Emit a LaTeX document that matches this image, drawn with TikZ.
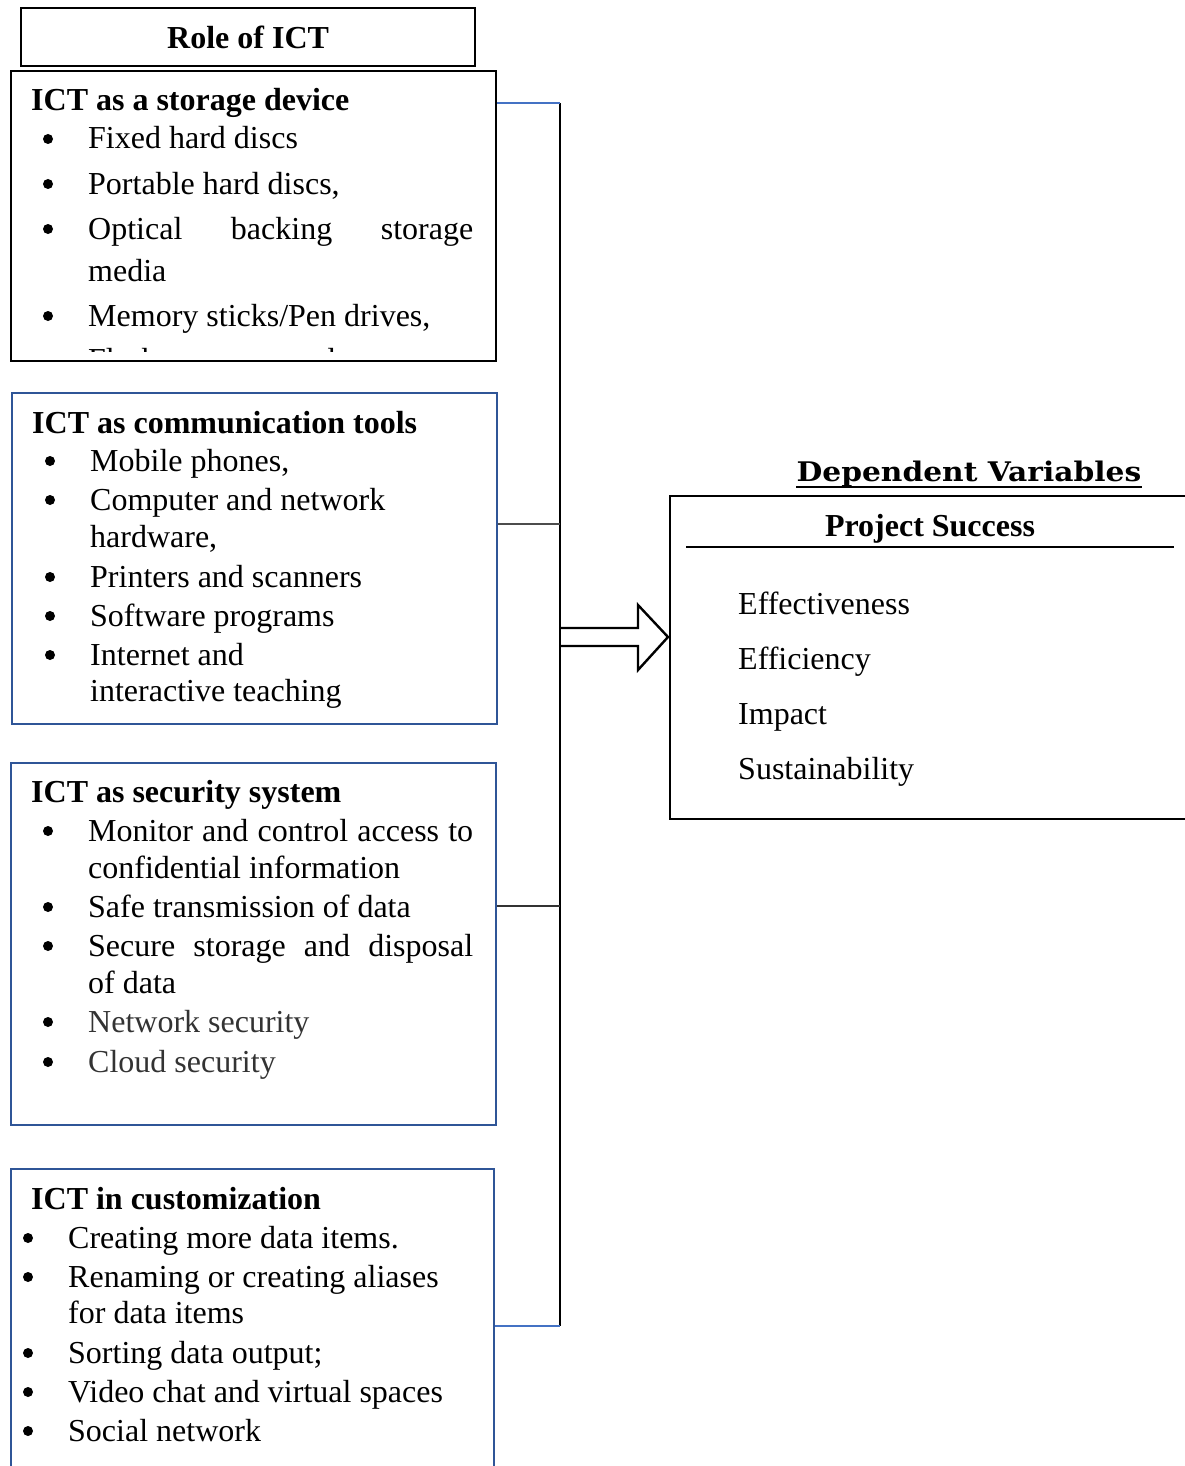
\documentclass[tikz,border=0pt]{standalone}
\usepackage{fontspec}
\setmainfont{Liberation Serif}
\newfontfamily\headfont{DejaVu Serif}
\definecolor{boxBlue}{RGB}{47,85,151}
\definecolor{linkBlue}{RGB}{68,114,196}
\begin{document}
\begin{tikzpicture}[x=1pt,y=-1pt,
    blackBox/.style={draw,line width=2.2pt,anchor=north west,inner sep=0pt},
    blueBox/.style={draw=boxBlue,line width=2.4pt,anchor=north west,inner sep=0pt},
    bodyTxt/.style={anchor=base west,inner sep=0pt,font=\fontsize{32}{38}\selectfont},
    headTxt/.style={bodyTxt,font=\fontsize{32}{38}\selectfont\bfseries},
    busLine/.style={line width=1.2pt},
    blueLine/.style={busLine,draw=linkBlue},
    blockArr/.style={line width=2.4pt,fill=white,line join=miter},
]
\useasboundingbox (0,0) rectangle (1185,1466);
\clip (0,0) rectangle (1185,1466);
% role heading
\node[blackBox,minimum width=454,minimum height=58,font=\fontsize{32}{38}\selectfont\bfseries] (role) at (20,7) {Role of ICT};
% storage box
\begin{scope}
\clip (10,70) rectangle (495,351);
\node[bodyTxt] (storeCut) at (88,370) {Flash memory cards};
\end{scope}
\node[blackBox,minimum width=485,minimum height=290] (store) at (10,70) {};
\node[headTxt] (storeHd) at (31,111) {ICT as a storage device};
\foreach \y/\t [count=\i] in {149/{Fixed hard discs},194/{Portable hard discs,},
    239/{\makebox[385pt][s]{Optical backing storage}},281/{media},326/{Memory sticks/Pen drives,}}
    \node[bodyTxt] (store\i) at (88,\y) {\t};
\foreach \y in {139,184,229,316} \fill (48,\y) circle (5);
% communication box
\node[blueBox,minimum width=485,minimum height=331] (comm) at (11,392) {};
\node[headTxt] (commHd) at (32,433) {ICT as communication tools};
\foreach \y/\t [count=\i] in {471/{Mobile phones,},510/{Computer and network},547/{hardware,},
    587/{Printers and scanners},626/{Software programs},665/{Internet and},701/{interactive teaching}}
    \node[bodyTxt] (comm\i) at (90,\y) {\t};
\foreach \y in {461,500,577,616,655} \fill (50,\y) circle (5);
% security box
\node[blueBox,minimum width=485,minimum height=362] (secur) at (10,762) {};
\node[headTxt] (securHd) at (31,802) {ICT as security system};
\foreach \y/\t [count=\i] in {841/{\makebox[385pt][s]{Monitor and control access to}},878/{confidential information},
    917/{Safe transmission of data},956/{\makebox[385pt][s]{Secure storage and disposal}},993/{of data}}
    \node[bodyTxt] (secur\i) at (88,\y) {\t};
\node[bodyTxt,text=black!80] (secur6) at (88,1032) {Network security};
\node[bodyTxt,text=black!80] (secur7) at (88,1072) {Cloud security};
\foreach \y in {831,907,946,1022,1062} \fill (48,\y) circle (5);
% customization box
\node[blueBox,minimum width=483,minimum height=330] (custom) at (10,1168) {};
\node[headTxt] (customHd) at (31,1209) {ICT in customization};
\foreach \y/\t [count=\i] in {1248/{Creating more data items.},1287/{Renaming or creating aliases},
    1323/{for data items},1363/{Sorting data output;},1402/{Video chat and virtual spaces},1441/{Social network}}
    \node[bodyTxt] (custom\i) at (68,\y) {\t};
\foreach \y in {1238,1277,1353,1392,1431} \fill (28,\y) circle (5);
% bus
\coordinate (busTop) at (560,103);
\coordinate (busComm) at (560,524);
\coordinate (busSec) at (560,906);
\coordinate (busBot) at (560,1326);
\draw[busLine] (busTop) -- (busBot);
\draw[blueLine] (store.east |- busTop) -- (busTop);
\draw[busLine,draw=black!70] (comm.east |- busComm) -- (busComm);
\draw[busLine,draw=black!80] (secur.east |- busSec) -- (busSec);
\draw[blueLine] (custom.east |- busBot) -- (busBot);
% dependent side
\node[anchor=base,inner sep=0pt,font=\fontsize{27}{32}\headfont\bfseries] (depHead) at (969,481)
    {\scalebox{1.1}[1]{Dependent Variables}};
\draw[line width=2pt] ([yshift=-6pt]depHead.base west) -- ([yshift=-6pt]depHead.base east);
\node[blackBox,line width=2.4pt,minimum width=540,minimum height=323] (dep) at (669,495) {};
\node[headTxt,anchor=base] (depTitle) at (930,536) {Project Success};
\draw[line width=1.8pt] (686,547) -- (1174,547);
\foreach \y/\t [count=\i] in {614/{Effectiveness},669/{Efficiency},724/{Impact},779/{Sustainability}}
    \node[bodyTxt] (dep\i) at (738,\y) {\t};
% arrow
\coordinate (arrTail) at (561,637);
\coordinate (arrTip) at (668,637);
\draw[blockArr] (arrTail) ++(0,-9) -- ++(77,0) -- ++(0,-23) -- (arrTip) -- ++(-30,33) -- ++(0,-24) -- ++(-77,0);
\end{tikzpicture}
\end{document}
